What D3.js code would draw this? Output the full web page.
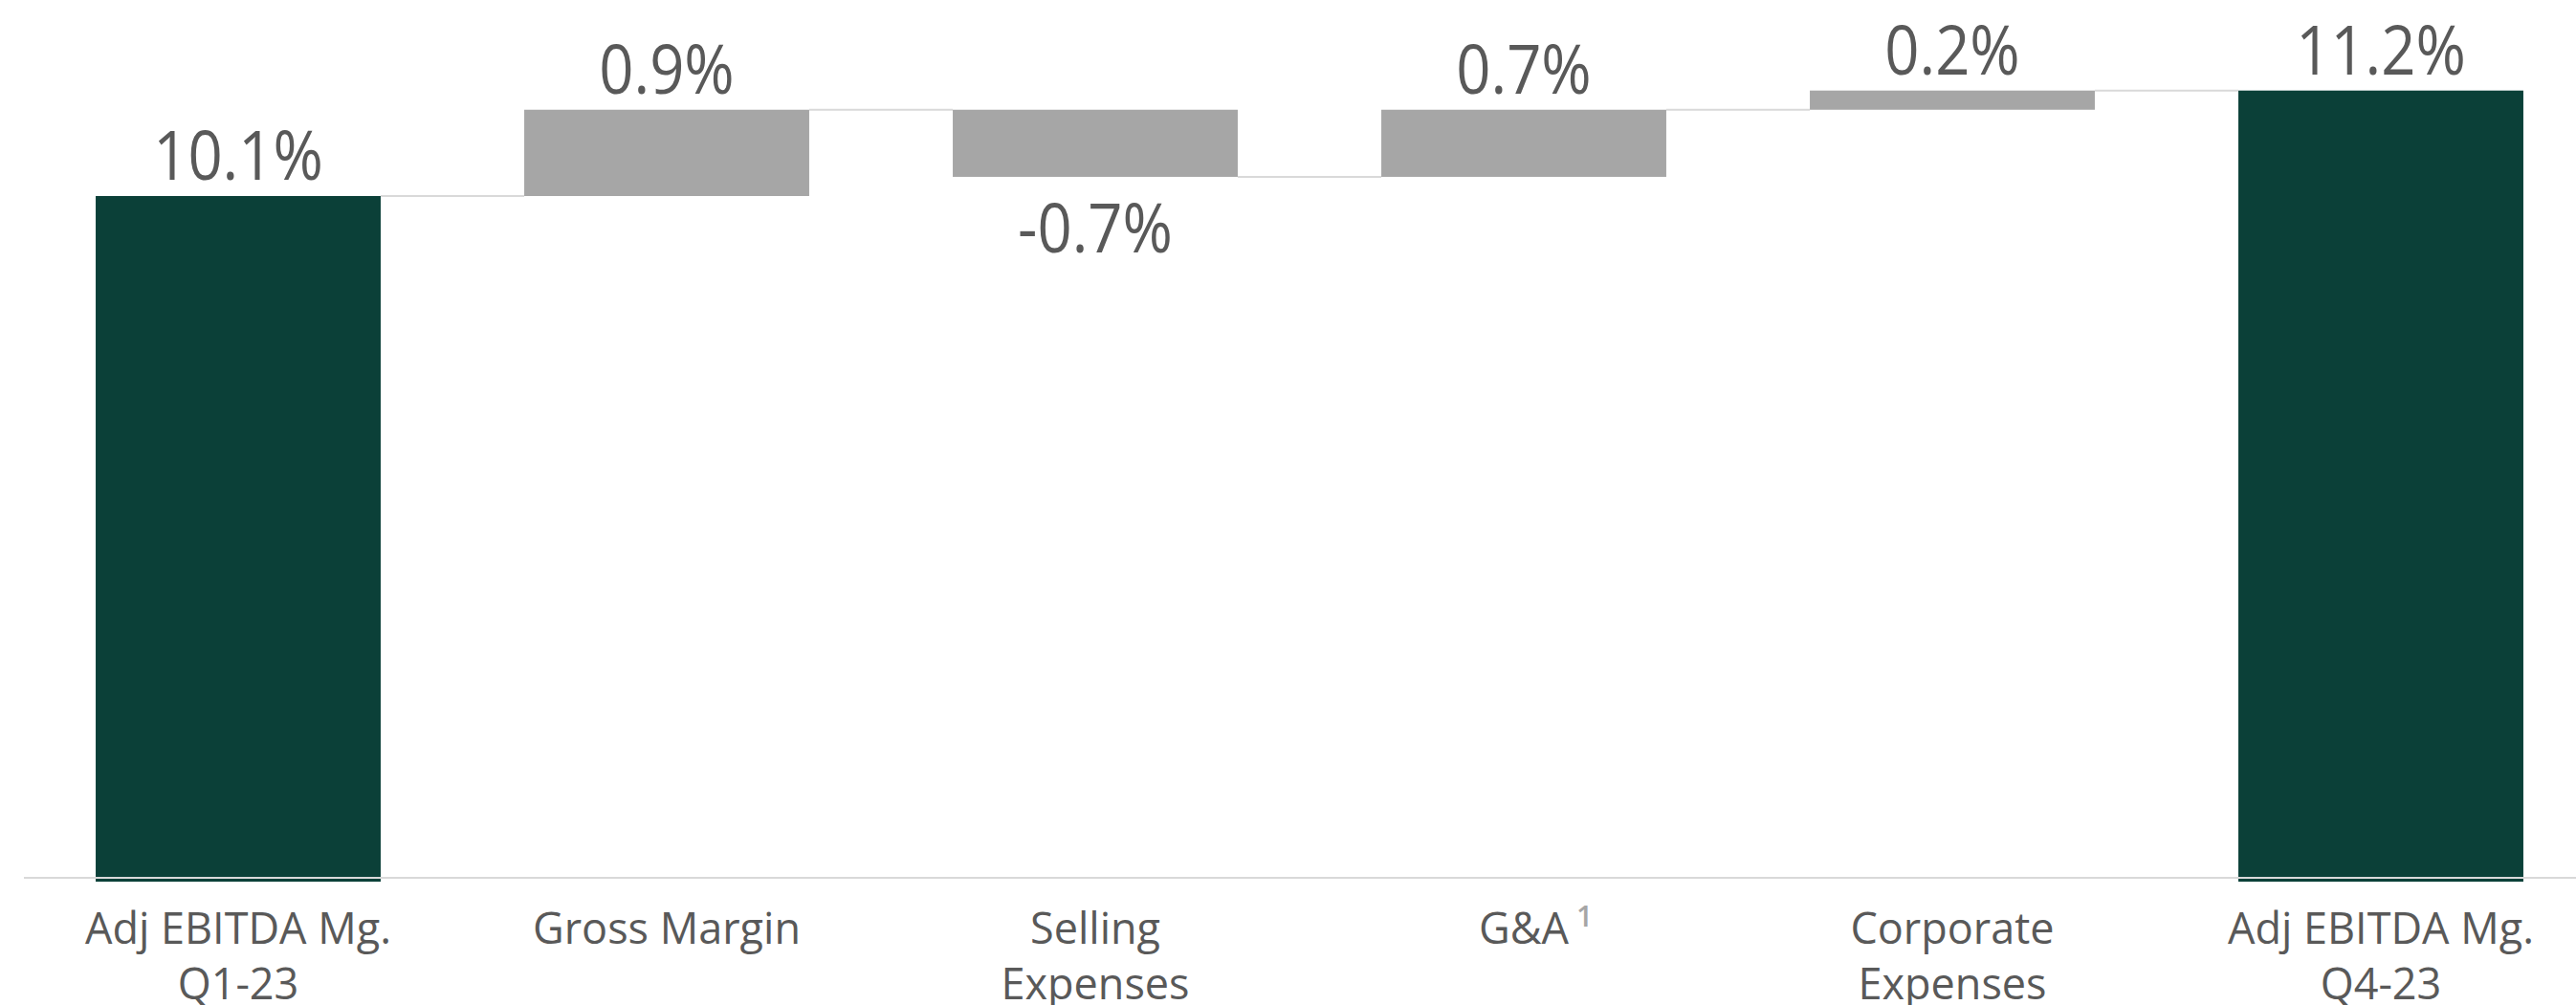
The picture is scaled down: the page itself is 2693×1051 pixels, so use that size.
<!DOCTYPE html>
<html>
<head>
<meta charset="utf-8">
<script src="https://cdn.jsdelivr.net/npm/d3@7"></script>
<style>
  html, body { margin: 0; padding: 0; background: #fff; }
  svg { display: block; }
  text { font-family: "Segoe UI", "Open Sans", sans-serif; fill: #595959; }
</style>
</head>
<body>
<svg id="waterfall"></svg>
<script>
(function(){

    var width = 2693;
    var height = 1051;

    // chart data
    var categories = ["Q1", "GM", "SELL", "GA", "CORP", "Q4"];
    var categoryLines = [
        ["Adj EBITDA Mg.", "Q1-23"],
        ["Gross Margin"],
        ["Selling", "Expenses"],
        ["G&A"],
        ["Corporate", "Expenses"],
        ["Adj EBITDA Mg.", "Q4-23"]
    ];
    var footnotes = ["", "", "", "1", "", ""];
    var values = [10.1, 0.9, -0.7, 0.7, 0.2, 11.2];
    var isTotal = [true, false, false, false, false, true];
    var valueLabels = ["10.1%", "0.9%", "-0.7%", "0.7%", "0.2%", "11.2%"];

    // running totals for the floating bars
    var bars = [];
    var running = 0;
    values.forEach(function(v, i) {
        var start, end;
        if (isTotal[i]) { start = null; end = v; running = v; }
        else { start = running; end = running + v; running = end; }
        bars.push({key: categories[i], value: v, start: start, end: end, total: isTotal[i], i: i});
    });

    var svg = d3.select("svg#waterfall")
        .attr("width", width)
        .attr("height", height);

    var xScale = d3.scaleBand()
        .domain(categories)
        .range([25, 2713])
        .paddingInner(0.335)
        .paddingOuter(0.1675);

    // value axis does not start at zero in the original
    var yScale = d3.scaleLinear()
        .domain([2.95, 11.2])
        .range([922, 94.7]);

    var bw = xScale.bandwidth();

    // connectors
    svg.append("g")
        .selectAll("line")
        .data(bars.slice(0, -1))
        .enter()
        .append("line")
        .attr("x1", function(d) { return xScale(d.key) + bw; })
        .attr("x2", function(d) { return xScale(categories[d.i + 1]); })
        .attr("y1", function(d) { return yScale(d.end); })
        .attr("y2", function(d) { return yScale(d.end); })
        .style("stroke", "#d9d9d9")
        .style("stroke-width", 2);

    svg.append("g")
        .selectAll("rect")
        .data(bars)
        .enter()
        .append("rect")
        .attr("x", function(d) { return xScale(d.key); })
        .attr("width", bw)
        .attr("y", function(d) {
            return d.total ? yScale(d.end) : yScale(Math.max(d.start, d.end));
        })
        .attr("height", function(d) {
            if (d.total) return yScale.range()[0] - yScale(d.end);
            return Math.abs(yScale(d.start) - yScale(d.end));
        })
        .style("fill", function(d) { return d.total ? "#0b4038" : "#a6a6a6"; });

    // baseline
    svg.append("line")
        .attr("x1", 25)
        .attr("x2", width)
        .attr("y1", yScale.range()[0] - 4)
        .attr("y2", yScale.range()[0] - 4)
        .style("stroke", "#d9d9d9")
        .style("stroke-width", 2);

    // value labels
    svg.append("g")
        .selectAll("g")
        .data(bars)
        .enter()
        .append("g")
        .attr("transform", function(d) {
            var cx = xScale(d.key) + bw / 2;
            var y = d.value < 0 ? yScale(d.end) + 79 : yScale(d.total ? d.end : Math.max(d.start, d.end)) - 17;
            return "translate(" + cx + "," + y + ") scale(0.88,1)";
        })
        .append("text")
        .attr("text-anchor", "middle")
        .style("font-size", "72px")
        .text(function(d, i) { return valueLabels[d.i]; });

    // category labels
    var cat = svg.append("g")
        .selectAll("text")
        .data(bars)
        .enter()
        .append("text")
        .attr("text-anchor", "middle")
        .attr("x", function(d) { return xScale(d.key) + bw / 2; })
        .attr("y", 987)
        .style("font-size", "45px");

    cat.selectAll("tspan")
        .data(function(d) { return categoryLines[d.i].map(function(t) { return {t: t, x: xScale(d.key) + bw / 2}; }); })
        .enter()
        .append("tspan")
        .attr("x", function(d) { return d.x; })
        .attr("dy", function(d, j) { return j === 0 ? 0 : 58; })
        .text(function(d) { return d.t; });

    // footnote markers
    cat.each(function(d) {
        if (!footnotes[d.i]) return;
        var w = this.getComputedTextLength();
        svg.append("text")
            .attr("x", xScale(d.key) + bw / 2 + w / 2 + 8)
            .attr("y", 969)
            .style("font-size", "30px")
            .style("font-weight", "600")
            .style("fill", "#a6a6a6")
            .text(footnotes[d.i]);
    });

})();
</script>
</body>
</html>
